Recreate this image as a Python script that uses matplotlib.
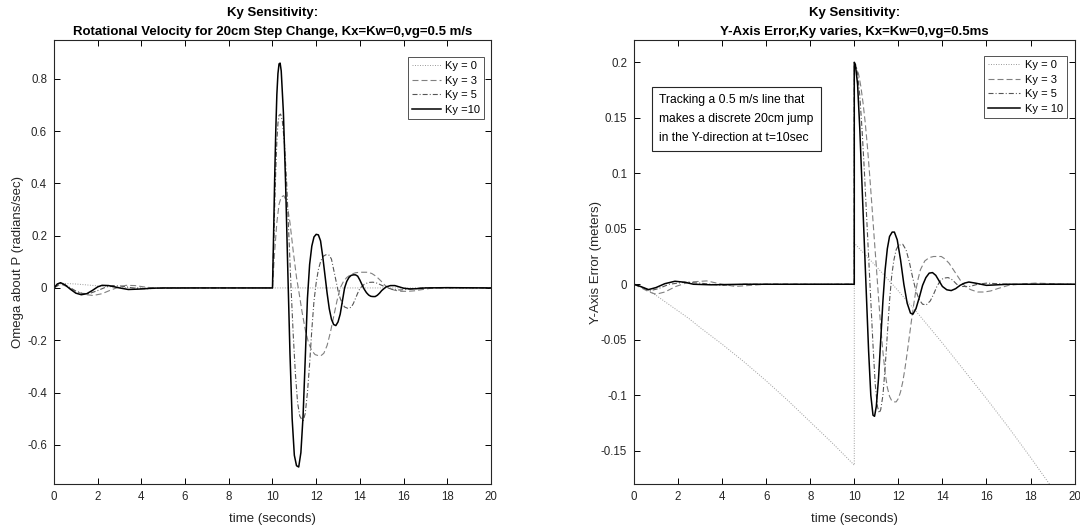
import matplotlib
matplotlib.use("Agg")
import matplotlib.pyplot as plt

plt.rcParams["font.family"] = ["Liberation Sans", "DejaVu Sans"]
plt.rcParams["lines.scale_dashes"] = False

# ---- left panel: rotational velocity (rad/s) ----
w_t_ky0 = [0, 0.3, 1.0, 2.0, 3.0, 4.0, 20]
w_ky0 = [0, 0.018, 0.015, 0.008, 0.002, 0.0, 0.0]

w_t_ky3 = [0, 0.3, 0.6, 1.0, 1.4, 1.8, 2.2, 2.6, 3.0, 3.3, 3.7, 4.2, 4.8, 5.5, 6.5, 10.0,
           10.05, 10.1, 10.2, 10.3, 10.4, 10.52, 10.65, 10.8, 10.95, 11.1, 11.2, 11.35, 11.5,
           11.65, 11.8, 11.95, 12.1, 12.22, 12.35, 12.5, 12.65, 12.8, 12.95, 13.1, 13.25, 13.4,
           13.6, 13.8, 14.0, 14.2, 14.37, 14.55, 14.75, 14.95, 15.15, 15.35, 15.6, 15.9, 16.2,
           16.5, 16.8, 17.2, 17.6, 18.0, 20.0]
w_ky3 = [0, 0.015, 0.005, -0.013, -0.025, -0.029, -0.022, -0.008, 0.004, 0.01, 0.009, 0.003,
         -0.002, -0.002, 0, 0,
         0.07, 0.14, 0.25, 0.32, 0.348, 0.353, 0.33, 0.25, 0.14, 0.04, -0.01, -0.09, -0.16,
         -0.21, -0.24, -0.255, -0.259, -0.259, -0.25, -0.22, -0.17, -0.11, -0.05, 0.0, 0.025,
         0.04, 0.052, 0.058, 0.06, 0.06, 0.06, 0.055, 0.044, 0.028, 0.01, -0.002, -0.009,
         -0.013, -0.013, -0.011, -0.007, -0.002, 0.0, 0.001, 0.0]

w_t_ky5 = [0, 0.3, 0.6, 1.0, 1.3, 1.6, 2.0, 2.4, 2.7, 3.1, 3.6, 4.2, 5.0, 6.0, 10.0,
           10.05, 10.1, 10.15, 10.2, 10.25, 10.3, 10.37, 10.45, 10.55, 10.65, 10.75, 10.85,
           10.95, 11.05, 11.15, 11.25, 11.35, 11.41, 11.5, 11.6, 11.7, 11.8, 11.9, 12.0, 12.1,
           12.2, 12.3, 12.45, 12.6, 12.7, 12.8, 12.9, 13.0, 13.1, 13.2, 13.3, 13.45, 13.6,
           13.7, 13.8, 13.9, 14.0, 14.2, 14.4, 14.6, 14.8, 15.0, 15.2, 15.5, 15.85, 16.2,
           16.6, 17.0, 18.0, 20.0]
w_ky5 = [0, 0.017, 0.008, -0.012, -0.021, -0.022, -0.01, 0.004, 0.009, 0.007, 0.0, -0.003,
         -0.001, 0, 0,
         0.15, 0.31, 0.45, 0.56, 0.63, 0.66, 0.665, 0.64, 0.55, 0.40, 0.20, 0.0, -0.18,
         -0.33, -0.44, -0.49, -0.505, -0.507, -0.48, -0.40, -0.29, -0.16, -0.05, 0.02, 0.07,
         0.10, 0.12, 0.127, 0.125, 0.11, 0.07, 0.03, -0.01, -0.04, -0.06, -0.073, -0.078,
         -0.074, -0.06, -0.04, -0.02, -0.002, 0.014, 0.021, 0.022, 0.018, 0.01, 0.002,
         -0.006, -0.008, -0.005, -0.001, 0.001, 0.0, 0.0]

w_t_ky10 = [0, 0.15, 0.3, 0.5, 0.75, 1.0, 1.25, 1.5, 1.75, 2.0, 2.2, 2.5, 3.0, 3.4, 4.0, 4.5,
            5.0, 10.0,
            10.05, 10.1, 10.15, 10.2, 10.25, 10.3, 10.35, 10.4, 10.5, 10.6, 10.7, 10.8, 10.9,
            11.0, 11.1, 11.2, 11.3, 11.4, 11.5, 11.6, 11.7, 11.8, 11.9, 12.0, 12.1, 12.2,
            12.3, 12.4, 12.5, 12.6, 12.7, 12.8, 12.9, 13.0, 13.1, 13.2, 13.3, 13.4, 13.5,
            13.6, 13.7, 13.8, 13.9, 14.0, 14.1, 14.2, 14.3, 14.4, 14.5, 14.6, 14.7, 14.8,
            14.9, 15.0, 15.2, 15.4, 15.6, 15.8, 16.0, 16.3, 16.6, 17.0, 18.0, 20.0]
w_ky10 = [0, 0.015, 0.02, 0.012, -0.005, -0.02, -0.026, -0.022, -0.01, 0.004, 0.01, 0.009,
          0.0, -0.006, -0.004, -0.001, 0.0, 0.0,
          0.20, 0.42, 0.60, 0.74, 0.82, 0.857, 0.86, 0.83, 0.67, 0.40, 0.07, -0.25, -0.50,
          -0.64, -0.68, -0.685, -0.63, -0.49, -0.27, -0.04, 0.09, 0.16, 0.195, 0.205, 0.203,
          0.18, 0.12, 0.05, -0.02, -0.08, -0.12, -0.14, -0.144, -0.13, -0.10, -0.05, 0.0,
          0.025, 0.04, 0.048, 0.05, 0.05, 0.045, 0.03, 0.012, -0.005, -0.018, -0.027,
          -0.032, -0.033, -0.033, -0.028, -0.02, -0.01, 0.004, 0.009, 0.009, 0.004, -0.001,
          -0.004, -0.003, 0.0, 0.001, 0.0]

# ---- right panel: Y-axis error (m) ----
e_t_ky0 = [0, 0.5, 1, 1.5, 2, 2.5, 3, 4, 5, 6, 7, 8, 9, 10,
           10, 11, 12, 13, 14, 15, 16, 17, 18, 19, 20]
e_ky0 = [0, -0.004, -0.01, -0.017, -0.024, -0.031, -0.039, -0.054, -0.07, -0.087, -0.105,
         -0.124, -0.143, -0.163,
         0.037, 0.016, -0.006, -0.029, -0.053, -0.078, -0.103, -0.129, -0.156, -0.184, -0.213]

e_t_ky3 = [0, 0.4, 0.7, 1.0, 1.4, 1.9, 2.5, 3.3, 4.0, 4.6, 5.3, 6.0, 10.0,
           10.0, 10.1, 10.2, 10.3, 10.4, 10.5, 10.6, 10.7, 10.8, 10.9, 11.0, 11.1, 11.2,
           11.3, 11.4, 11.5, 11.6, 11.7, 11.8, 11.9, 12.0, 12.1, 12.2, 12.3, 12.4, 12.5,
           12.6, 12.7, 12.8, 12.9, 13.0, 13.2, 13.4, 13.6, 13.8, 13.95, 14.1, 14.3, 14.5,
           14.7, 14.9, 15.1, 15.3, 15.6, 15.9, 16.2, 16.5, 17.0, 17.5, 18.2, 20.0]
e_ky3 = [0, -0.004, -0.007, -0.009, -0.007, -0.002, 0.002, 0.003, 0.0, -0.002, -0.001, 0, 0,
         0.197, 0.195, 0.189, 0.178, 0.163, 0.145, 0.123, 0.098, 0.071, 0.043, 0.016,
         -0.012, -0.038, -0.061, -0.08, -0.093, -0.101, -0.105, -0.106, -0.106, -0.103,
         -0.097, -0.088, -0.076, -0.062, -0.047, -0.032, -0.018, -0.005, 0.005, 0.013,
         0.021, 0.024, 0.025, 0.025, 0.025, 0.023, 0.019, 0.013, 0.007, 0.001, -0.003,
         -0.005, -0.007, -0.007, -0.006, -0.004, -0.001, 0.0, 0.001, 0.0]

e_t_ky5 = [0, 0.3, 0.7, 1.1, 1.6, 2.3, 3.0, 4.0, 5.0, 10.0,
           10.0, 10.07, 10.15, 10.25, 10.35, 10.45, 10.55, 10.65, 10.75, 10.85, 10.95,
           11.05, 11.13, 11.2, 11.3, 11.4, 11.5, 11.6, 11.7, 11.8, 11.9, 12.0, 12.2, 12.35,
           12.5, 12.65, 12.8, 12.95, 13.1, 13.27, 13.45, 13.6, 13.75, 13.9, 14.05, 14.26,
           14.45, 14.65, 14.85, 15.05, 15.25, 15.6, 16.0, 17.0, 20.0]
e_ky5 = [0, -0.002, -0.006, -0.004, 0.0, 0.0018, 0.001, -0.001, 0, 0,
         0.196, 0.196, 0.19, 0.17, 0.14, 0.105, 0.065, 0.025, -0.015, -0.055, -0.09,
         -0.11, -0.116, -0.113, -0.1, -0.075, -0.045, -0.015, 0.008, 0.022, 0.031, 0.035,
         0.036, 0.031, 0.02, 0.006, -0.006, -0.014, -0.018, -0.0186, -0.015, -0.009,
         -0.002, 0.003, 0.0055, 0.006, 0.004, 0.0, -0.002, -0.002, -0.002, 0.0, 0.001, 0, 0]

e_t_ky10 = [0, 0.3, 0.66, 1.0, 1.4, 1.86, 2.3, 2.7, 3.5, 5.0, 10.0,
            10.0, 10.05, 10.15, 10.25, 10.35, 10.45, 10.55, 10.65, 10.75, 10.85, 10.92,
            11.0, 11.1, 11.2, 11.3, 11.4, 11.5, 11.6, 11.72, 11.82, 11.95, 12.1, 12.25,
            12.4, 12.55, 12.66, 12.8, 12.95, 13.1, 13.25, 13.4, 13.55, 13.7, 13.85, 14.0,
            14.2, 14.4, 14.6, 14.8, 15.0, 15.2, 15.5, 16.0, 17.0, 20.0]
e_ky10 = [0, -0.002, -0.0048, -0.003, 0.0005, 0.0027, 0.0018, 0.0, -0.0005, 0, 0,
          0.2, 0.198, 0.18, 0.14, 0.09, 0.04, -0.01, -0.06, -0.10, -0.118, -0.119,
          -0.11, -0.085, -0.05, -0.015, 0.013, 0.032, 0.043, 0.047, 0.047, 0.04, 0.022,
          0.0, -0.017, -0.026, -0.027, -0.022, -0.012, -0.001, 0.006, 0.010, 0.0105,
          0.008, 0.003, -0.002, -0.005, -0.0057, -0.004, -0.001, 0.001, 0.002, 0.001,
          -0.001, 0, 0]

labels_left = ["Ky = 0", "Ky = 3", "Ky = 5", "Ky =10"]
labels_right = ["Ky = 0", "Ky = 3", "Ky = 5", "Ky = 10"]
# MATLAB-like greyscale line styles (dash patterns in points)
styles = [((0, (0.7, 1.1)), "#9a9a9a", 0.7),
          ((0, (4.3, 2.2)), "#808080", 0.8),
          ((0, (3.6, 1.5, 0.7, 1.5)), "#555555", 0.8),
          ("-", "black", 1.1)]

fig = plt.figure(figsize=(10.8, 5.31), dpi=100)
ax1 = fig.add_axes([0.05, 0.0885, 0.4046, 0.836])
ax2 = fig.add_axes([0.587, 0.0885, 0.408, 0.836])

left_data = [(w_t_ky0, w_ky0), (w_t_ky3, w_ky3), (w_t_ky5, w_ky5), (w_t_ky10, w_ky10)]
right_data = [(e_t_ky0, e_ky0), (e_t_ky3, e_ky3), (e_t_ky5, e_ky5), (e_t_ky10, e_ky10)]

for (t, v), (ls, c, lw), lab in zip(left_data, styles, labels_left):
    ax1.plot(t, v, linestyle=ls, color=c, linewidth=lw, label=lab)
for (t, v), (ls, c, lw), lab in zip(right_data, styles, labels_right):
    ax2.plot(t, v, linestyle=ls, color=c, linewidth=lw, label=lab)

ax1.set_xlim(0, 20)
ax1.set_ylim(-0.75, 0.948)
ax1.set_yticks([-0.6, -0.4, -0.2, 0, 0.2, 0.4, 0.6, 0.8])
ax1.set_yticklabels(["-0.6", "-0.4", "-0.2", "0", "0.2", "0.4", "0.6", "0.8"])
ax2.set_xlim(0, 20)
ax2.set_ylim(-0.18, 0.22)
ax2.set_yticks([-0.15, -0.1, -0.05, 0, 0.05, 0.1, 0.15, 0.2])
ax2.set_yticklabels(["-0.15", "-0.1", "-0.05", "0", "0.05", "0.1", "0.15", "0.2"])

legend_anchor = {ax1: (0.984, 0.962), ax2: (0.982, 0.964)}
legend_handle = {ax1: 2.6, ax2: 2.9}
for ax in (ax1, ax2):
    ax.set_xticks(range(0, 21, 2))
    ax.tick_params(direction="in", top=True, right=True, length=4, width=0.7,
                   labelsize=8.3, labelcolor="#262626", pad=5)
    for s in ax.spines.values():
        s.set_linewidth(0.8)
        s.set_color("#262626")
    ax.set_xlabel("time (seconds)", fontsize=9.5, color="#262626", labelpad=7.5)
    leg = ax.legend(loc="upper right", bbox_to_anchor=legend_anchor[ax], fontsize=8,
                    frameon=True, fancybox=False, edgecolor="#262626",
                    handlelength=legend_handle[ax], borderpad=0.35, labelspacing=0.42,
                    handletextpad=0.4, borderaxespad=0.0)
    leg.get_frame().set_linewidth(0.7)

ax1.set_ylabel("Omega about P (radians/sec)", fontsize=9.5, color="#262626", labelpad=2)
ax2.set_ylabel("Y-Axis Error (meters)", fontsize=9.5, color="#262626", labelpad=-1)

ax1.set_title("Ky Sensitivity:\nRotational Velocity for 20cm Step Change, Kx=Kw=0,vg=0.5 m/s",
              fontsize=9.5, fontweight="bold", pad=4, linespacing=1.75)
ax2.set_title("Ky Sensitivity:\nY-Axis Error,Ky varies, Kx=Kw=0,vg=0.5ms",
              fontsize=9.5, fontweight="bold", pad=4, linespacing=1.75)

ax2.text(0.057, 0.878,
         "Tracking a 0.5 m/s line that\nmakes a discrete 20cm jump\nin the Y-direction at t=10sec",
         transform=ax2.transAxes, fontsize=8.7, va="top", ha="left", linespacing=1.75,
         bbox=dict(boxstyle="square,pad=0.62", facecolor="white", edgecolor="#262626",
                   linewidth=0.8))

fig.savefig("out.png", dpi=100)
